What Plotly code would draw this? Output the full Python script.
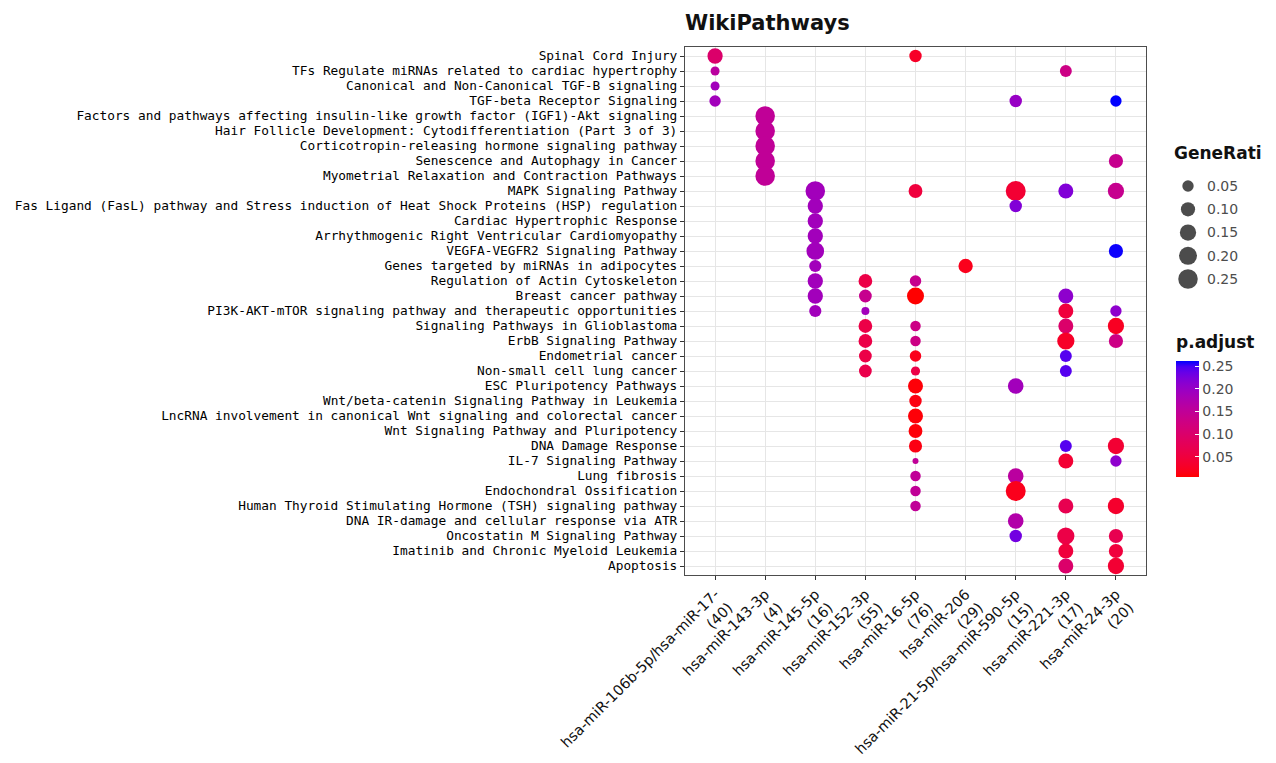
import numpy as np
import plotly.graph_objects as go

# ---- data -------------------------------------------------------------
pathways = [
    "Spinal Cord Injury",
    "TFs Regulate miRNAs related to cardiac hypertrophy",
    "Canonical and Non-Canonical TGF-B signaling",
    "TGF-beta Receptor Signaling",
    "Factors and pathways affecting insulin-like growth factor (IGF1)-Akt signaling",
    "Hair Follicle Development: Cytodifferentiation (Part 3 of 3)",
    "Corticotropin-releasing hormone signaling pathway",
    "Senescence and Autophagy in Cancer",
    "Myometrial Relaxation and Contraction Pathways",
    "MAPK Signaling Pathway",
    "Fas Ligand (FasL) pathway and Stress induction of Heat Shock Proteins (HSP) regulation",
    "Cardiac Hypertrophic Response",
    "Arrhythmogenic Right Ventricular Cardiomyopathy",
    "VEGFA-VEGFR2 Signaling Pathway",
    "Genes targeted by miRNAs in adipocytes",
    "Regulation of Actin Cytoskeleton",
    "Breast cancer pathway",
    "PI3K-AKT-mTOR signaling pathway and therapeutic opportunities",
    "Signaling Pathways in Glioblastoma",
    "ErbB Signaling Pathway",
    "Endometrial cancer",
    "Non-small cell lung cancer",
    "ESC Pluripotency Pathways",
    "Wnt/beta-catenin Signaling Pathway in Leukemia",
    "LncRNA involvement in canonical Wnt signaling and colorectal cancer",
    "Wnt Signaling Pathway and Pluripotency",
    "DNA Damage Response",
    "IL-7 Signaling Pathway",
    "Lung fibrosis",
    "Endochondral Ossification",
    "Human Thyroid Stimulating Hormone (TSH) signaling pathway",
    "DNA IR-damage and cellular response via ATR",
    "Oncostatin M Signaling Pathway",
    "Imatinib and Chronic Myeloid Leukemia",
    "Apoptosis",
]

cluster_names = [
    "hsa-miR-106b-5p/hsa-miR-17-",
    "hsa-miR-143-3p",
    "hsa-miR-145-5p",
    "hsa-miR-152-3p",
    "hsa-miR-16-5p",
    "hsa-miR-206",
    "hsa-miR-21-5p/hsa-miR-590-5p",
    "hsa-miR-221-3p",
    "hsa-miR-24-3p",
]
cluster_sizes = [40, 4, 16, 55, 76, 29, 15, 17, 20]

# one entry per enriched term: cluster index, pathway index, gene count, p.adjust
dot_cluster = (
    [0] * 4 + [1] * 5 + [2] * 9 + [3] * 7 + [4] * 17 + [5] * 1 + [6] * 8 + [7] * 14 + [8] * 13
)
dot_pathway = [
    0, 1, 2, 3,
    4, 5, 6, 7, 8,
    9, 10, 11, 12, 13, 14, 15, 16, 17,
    15, 16, 17, 18, 19, 20, 21,
    0, 9, 15, 16, 18, 19, 20, 21, 22, 23, 24, 25, 26, 27, 28, 29, 30,
    14,
    3, 9, 10, 22, 28, 29, 31, 32,
    1, 9, 16, 17, 18, 19, 20, 21, 26, 27, 30, 32, 33, 34,
    3, 7, 9, 13, 17, 18, 19, 26, 27, 30, 32, 33, 34,
]
dot_count = [
    5, 1, 1, 2,
    1, 1, 1, 1, 1,
    4, 2, 2, 2, 3, 1, 2, 2, 1,
    5, 4, 1, 5, 5, 4, 4,
    5, 7, 4, 13, 3, 3, 4, 2, 9, 5, 9, 7, 6, 1, 3, 3, 3,
    3,
    1, 4, 1, 2, 2, 4, 2, 1,
    1, 2, 2, 2, 2, 3, 1, 1, 1, 2, 2, 3, 2, 2,
    1, 2, 3, 2, 1, 3, 2, 3, 1, 3, 2, 2, 3,
]
dot_padj = [
    0.10, 0.16, 0.19, 0.19,
    0.15, 0.15, 0.15, 0.15, 0.15,
    0.19, 0.19, 0.19, 0.19, 0.19, 0.19, 0.19, 0.19, 0.19,
    0.06, 0.14, 0.19, 0.06, 0.06, 0.06, 0.065,
    0.03, 0.05, 0.14, 0.006, 0.13, 0.13, 0.02, 0.06, 0.01, 0.015, 0.01, 0.01, 0.015, 0.15, 0.15, 0.15, 0.15,
    0.02,
    0.20, 0.04, 0.22, 0.19, 0.16, 0.02, 0.17, 0.23,
    0.13, 0.22, 0.21, 0.05, 0.10, 0.03, 0.245, 0.245, 0.245, 0.04, 0.07, 0.06, 0.05, 0.10,
    0.262, 0.14, 0.14, 0.26, 0.21, 0.025, 0.13, 0.04, 0.21, 0.035, 0.07, 0.05, 0.04,
]

size_breaks = [0.05, 0.10, 0.15, 0.20, 0.25]
color_breaks = [0.05, 0.10, 0.15, 0.20, 0.25]

# ---- helpers ----------------------------------------------------------
FONT = "DejaVu Sans"
LABEL_FONT = "DejaVu Sans Mono"
_M = np.array([[0.4124564, 0.3575761, 0.1804375],
               [0.2126729, 0.7151522, 0.0721750],
               [0.0193339, 0.1191920, 0.9503041]])
_WHITE = np.array([0.95047, 1.0, 1.08883])
_D = 6 / 29


def _to_lab(rgb):
    c = np.array(rgb) / 255.0
    lin = np.where(c <= 0.04045, c / 12.92, ((c + 0.055) / 1.055) ** 2.4)
    t = _M @ lin / _WHITE
    f = np.where(t > _D ** 3, np.cbrt(t), t / (3 * _D ** 2) + 4 / 29)
    return np.array([116 * f[1] - 16, 500 * (f[0] - f[1]), 200 * (f[1] - f[2])])


def _from_lab(lab):
    fy = (lab[0] + 16) / 116
    f = np.array([fy + lab[1] / 500, fy, fy - lab[2] / 200])
    t = np.where(f > _D, f ** 3, 3 * _D ** 2 * (f - 4 / 29)) * _WHITE
    lin = np.clip(np.linalg.solve(_M, t), 0, 1)
    c = np.where(lin <= 0.0031308, 12.92 * lin, 1.055 * lin ** (1 / 2.4) - 0.055)
    return tuple(int(round(v)) for v in np.clip(c, 0, 1) * 255)


def lab_gradient(low, high, n=21):
    a, b = _to_lab(low), _to_lab(high)
    stops = []
    for t in np.linspace(0, 1, n):
        r, g, bl = _from_lab(a + (b - a) * t)
        stops.append([float(t), f"rgb({r},{g},{bl})"])
    return stops


gene_ratio = np.array(dot_count) / np.array(cluster_sizes)[dot_cluster]
ratio_lo, ratio_hi = gene_ratio.min(), gene_ratio.max()


def ratio_to_px(v):
    # area-style size scale: smallest ratio -> 6 px, largest -> 20 px
    frac = np.clip((np.asarray(v) - ratio_lo) / (ratio_hi - ratio_lo), 0, 1)
    return 6 + 14 * np.sqrt(frac)


x_labels = [f"{n}<br>({s})" for n, s in zip(cluster_names, cluster_sizes)]
colorscale = lab_gradient((255, 0, 0), (0, 0, 255))

# ---- figure -----------------------------------------------------------
fig = go.Figure()

fig.add_trace(go.Scatter(
    x=[x_labels[c] for c in dot_cluster],
    y=[pathways[p] for p in dot_pathway],
    mode="markers",
    marker=dict(
        size=ratio_to_px(gene_ratio),
        sizemode="diameter",
        color=dot_padj,
        colorscale=colorscale,
        cmin=min(dot_padj),
        cmax=max(dot_padj),
        line=dict(width=0),
        opacity=1,
        colorbar=dict(
            x=0.8308, xanchor="left", xpad=0,
            y=0.296, yanchor="middle", ypad=0,
            len=116, lenmode="pixels",
            thickness=23,
            outlinewidth=0,
            tickvals=color_breaks,
            ticktext=[f"{v:.2f}" for v in color_breaks],
            ticks="inside", ticklen=4, tickcolor="white",
            tickfont=dict(family=FONT, size=14, color="#4D4D4D"),
        ),
    ),
    customdata=np.stack([gene_ratio, dot_padj], axis=1),
    hovertemplate="%{y}<br>%{x}<br>GeneRatio=%{customdata[0]:.3f}"
                  "<br>p.adjust=%{customdata[1]:.3f}<extra></extra>",
    showlegend=False,
))

# GeneRatio size key
fig.add_trace(go.Scatter(
    x=[0] * len(size_breaks),
    y=list(range(len(size_breaks))),
    mode="markers",
    marker=dict(size=ratio_to_px(size_breaks), color="#000000", line=dict(width=0)),
    xaxis="x2", yaxis="y2",
    hoverinfo="skip",
    showlegend=False,
))

legend_title_font = dict(family=FONT, size=17, color="#111111")

fig.update_layout(
    width=1276, height=763,
    margin=dict(l=685, r=0, t=47, b=188, autoexpand=False),
    paper_bgcolor="white",
    plot_bgcolor="white",
    title=dict(
        text="<b>WikiPathways</b>",
        x=0, xref="paper", xanchor="left",
        y=1 - 23 / 763, yref="container", yanchor="middle",
        font=dict(family=FONT, size=21, color="#111111"),
    ),
    xaxis=dict(
        domain=[0, 461 / 591],
        type="category",
        categoryorder="array", categoryarray=x_labels,
        tickmode="array", tickvals=x_labels,
        range=[-0.6, len(x_labels) - 0.4],
        tickangle=-45,
        tickfont=dict(family=FONT, size=14.5, color="#111111"),
        ticks="outside", ticklen=4, tickcolor="#333333",
        showgrid=True, gridcolor="#E6E6E6", gridwidth=1,
        showline=True, linecolor="#4D4D4D", linewidth=1.2, mirror=True,
        automargin=False,
        fixedrange=True,
    ),
    yaxis=dict(
        domain=[0, 1],
        type="category",
        categoryorder="array", categoryarray=pathways,
        tickmode="array", tickvals=pathways,
        range=[len(pathways) - 0.4, -0.6],
        tickfont=dict(family=LABEL_FONT, size=12.8, color="#000000"),
        ticks="outside", ticklen=4, tickcolor="#333333",
        showgrid=True, gridcolor="#E6E6E6", gridwidth=1,
        showline=True, linecolor="#4D4D4D", linewidth=1.2, mirror=True,
        automargin=False,
        fixedrange=True,
    ),
    xaxis2=dict(
        domain=[(1176 - 685) / 591, (1200 - 685) / 591],
        anchor="y2", range=[-0.5, 0.5], visible=False, fixedrange=True,
    ),
    yaxis2=dict(
        domain=[0, 1], anchor="x2", side="right",
        range=[16.73, -5.98],
        tickvals=list(range(len(size_breaks))),
        ticktext=[f"{v:.2f}" for v in size_breaks],
        tickfont=dict(family=FONT, size=14, color="#4D4D4D"),
        ticks="", ticklabelstandoff=6,
        showgrid=False, zeroline=False, showline=False, fixedrange=True,
    ),
    annotations=[
        dict(
            text="<b>GeneRati</b>",
            xref="paper", yref="paper",
            x=(1172 - 685) / 591, y=(575 - 153) / 528,
            xanchor="left", yanchor="middle", showarrow=False,
            font=legend_title_font,
        ),
        dict(
            text="<b>p.adjust</b>",
            xref="paper", yref="paper",
            x=(1174 - 685) / 591, y=(575 - 342) / 528,
            xanchor="left", yanchor="middle", showarrow=False,
            font=legend_title_font,
        ),
    ],
)

fig.write_html("out.html")
